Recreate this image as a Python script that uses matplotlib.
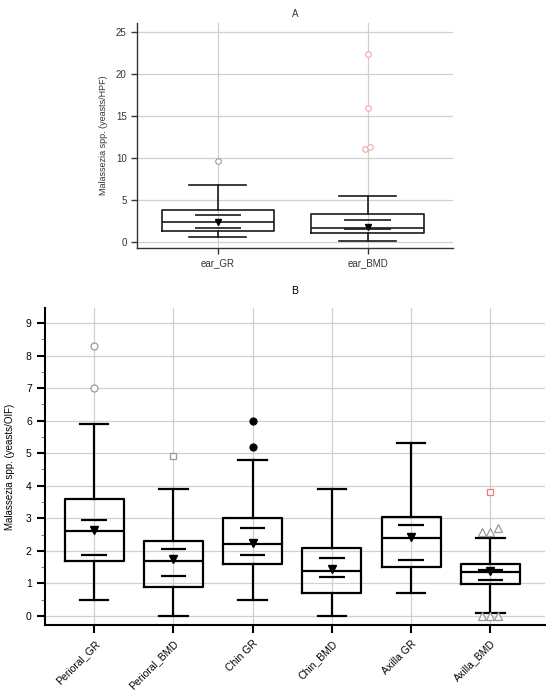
import numpy as np
import matplotlib
matplotlib.use('Agg')
import matplotlib.pyplot as plt

plt.rcParams['font.family'] = ['Liberation Sans', 'DejaVu Sans']

# ---- Panel A data (yeasts/HPF) ----
ear_labels = ['ear_GR', 'ear_BMD']
ear_q1 = [1.34, 1.03]
ear_med = [2.37, 1.74]
ear_q3 = [3.84, 3.40]
ear_wlo = [0.59, 0.12]
ear_whi = [6.84, 5.54]
ear_mean = [2.42, 1.84]
ear_ci_lo = [1.70, 1.54]
ear_ci_hi = [3.24, 2.69]
ear_out_x = [0, 1, 1, 1, 1]
ear_out_dx = [0, 0, 0, -0.018, 0.018]
ear_out_y = [9.69, 22.43, 15.94, 11.04, 11.35]
ear_out_col = ['#999999', '#f4a3a3', '#f4a3a3', '#f4a3a3', '#f4a3a3']

# ---- Panel B data (yeasts/OIF) ----
site_labels = ['Perioral_GR', 'Perioral_BMD', 'Chin GR', 'Chin_BMD', 'Axilla GR', 'Axilla_BMD']
site_q1 = [1.70, 0.90, 1.60, 0.70, 1.49, 0.98]
site_med = [2.61, 1.69, 2.21, 1.39, 2.40, 1.35]
site_q3 = [3.60, 2.30, 3.01, 2.10, 3.03, 1.60]
site_wlo = [0.49, 0.00, 0.49, 0.00, 0.70, 0.10]
site_whi = [5.89, 3.90, 4.80, 3.90, 5.30, 2.40]
site_mean = [2.64, 1.74, 2.24, 1.44, 2.43, 1.39]
site_ci_lo = [1.88, 1.24, 1.86, 1.21, 1.72, 1.10]
site_ci_hi = [2.95, 2.04, 2.70, 1.79, 2.79, 1.40]

# outliers: box index, x offset, value, marker, face, edge
site_out_box = [0, 0, 1, 2, 2, 5, 5, 5, 5, 5, 5, 5]
site_out_dx = [0, 0, 0, 0, 0, 0, -0.1, 0, 0.1, -0.1, 0, 0.1]
site_out_y = [8.30, 7.01, 4.90, 6.00, 5.19, 3.80, 2.59, 2.59, 2.69, 0.0, 0.0, 0.0]
site_out_mk = ['o', 'o', 's', 'o', 'o', 's', '^', '^', '^', '^', '^', '^']
site_out_fc = ['white', 'white', 'white', 'black', 'black', 'white',
               'white', 'white', 'white', 'white', 'white', 'white']
site_out_ec = ['#999999', '#999999', '#999999', 'black', 'black', '#f47a7a',
               '#999999', '#999999', '#999999', '#999999', '#999999', '#999999']


def make_stats(q1, med, q3, wlo, whi, mean):
    return [dict(q1=a, med=b, q3=c, whislo=d, whishi=e, mean=f, fliers=[])
            for a, b, c, d, e, f in zip(q1, med, q3, wlo, whi, mean)]


def style_axes(ax, lw):
    for s in ['top', 'right']:
        ax.spines[s].set_visible(False)
    for s in ['left', 'bottom']:
        ax.spines[s].set_linewidth(lw)
    ax.grid(True, color='#d0d0d0', linewidth=0.9, zorder=0)
    ax.set_axisbelow(True)
    ax.tick_params(axis='both', labelsize=7.5, width=lw, length=4, color='black')


fig = plt.figure(figsize=(5.5, 6.94), dpi=100)

# ---------------- Panel A ----------------
axA = fig.add_axes([137 / 550, 1 - 248 / 694, (453 - 137) / 550, (248 - 23) / 694])
posA = np.arange(len(ear_labels))
statsA = make_stats(ear_q1, ear_med, ear_q3, ear_wlo, ear_whi, ear_mean)
lwA = 1.2
axA.bxp(statsA, positions=posA, widths=0.75, capwidths=0.38, showmeans=True,
        showfliers=False, patch_artist=False,
        boxprops=dict(color='#1a1a1a', linewidth=lwA),
        whiskerprops=dict(color='#1a1a1a', linewidth=lwA),
        capprops=dict(color='#1a1a1a', linewidth=lwA),
        medianprops=dict(color='#1a1a1a', linewidth=lwA),
        meanprops=dict(marker='v', markerfacecolor='black', markeredgecolor='black',
                       markersize=5))
axA.hlines(ear_ci_lo, posA - 0.155, posA + 0.155, color='#1a1a1a', linewidth=lwA, zorder=3)
axA.hlines(ear_ci_hi, posA - 0.155, posA + 0.155, color='#1a1a1a', linewidth=lwA, zorder=3)
for xb, dx, y, c in zip(ear_out_x, ear_out_dx, ear_out_y, ear_out_col):
    axA.plot(posA[xb] + dx, y, marker='o', markersize=4, markerfacecolor='white',
             markeredgecolor=c, markeredgewidth=0.8, linestyle='none', zorder=4)
axA.set_xlim(-0.54, 1.57)
axA.set_ylim(-0.7, 26.1)
axA.set_yticks([0, 5, 10, 15, 20, 25])
axA.set_xticks(posA)
axA.set_xticklabels(ear_labels)
style_axes(axA, 1.0)
axA.tick_params(axis='both', labelsize=7, colors='#333333')
axA.spines['left'].set_color('#333333')
axA.spines['bottom'].set_color('#333333')
axA.set_ylabel('Malassezia spp. (yeasts/HPF)', fontsize=6.5, color='#333333', labelpad=6)
axA.set_title('A', fontsize=7, color='#333333', pad=4)

# ---------------- Panel B ----------------
axB = fig.add_axes([45 / 550, 1 - 625 / 694, (545 - 45) / 550, (625 - 308) / 694])
posB = np.arange(len(site_labels))
statsB = make_stats(site_q1, site_med, site_q3, site_wlo, site_whi, site_mean)
lwB = 1.6
axB.bxp(statsB, positions=posB, widths=0.745, capwidths=0.36, showmeans=True,
        showfliers=False, patch_artist=False,
        boxprops=dict(color='black', linewidth=lwB),
        whiskerprops=dict(color='black', linewidth=lwB),
        capprops=dict(color='black', linewidth=lwB),
        medianprops=dict(color='black', linewidth=lwB),
        meanprops=dict(marker='v', markerfacecolor='black', markeredgecolor='black',
                       markersize=6))
axB.hlines(site_ci_lo, posB - 0.16, posB + 0.16, color='black', linewidth=lwB, zorder=3)
axB.hlines(site_ci_hi, posB - 0.16, posB + 0.16, color='black', linewidth=lwB, zorder=3)
for b, dx, y, mk, fc, ec in zip(site_out_box, site_out_dx, site_out_y,
                                site_out_mk, site_out_fc, site_out_ec):
    ms = 6 if mk == '^' else 5
    axB.plot(posB[b] + dx, y, marker=mk, markersize=ms, markerfacecolor=fc,
             markeredgecolor=ec, markeredgewidth=0.9, linestyle='none', zorder=4)
axB.set_xlim(-0.62, 5.69)
axB.set_ylim(-0.28, 9.46)
axB.set_yticks(range(10))
axB.set_yticks(np.arange(0.5, 9.0, 1.0), minor=True)
axB.set_xticks(posB)
axB.set_xticklabels(site_labels, rotation=45, ha='right', rotation_mode='anchor')
style_axes(axB, 1.5)
axB.tick_params(axis='y', which='minor', length=3, width=0.6, color='#666666')
axB.tick_params(axis='both', which='major', length=6)
axB.set_ylabel('Malassezia spp. (yeasts/OIF)', fontsize=7, labelpad=8)
axB.set_title('B', fontsize=7.5, pad=10)

fig.savefig('out.png', dpi=100)
